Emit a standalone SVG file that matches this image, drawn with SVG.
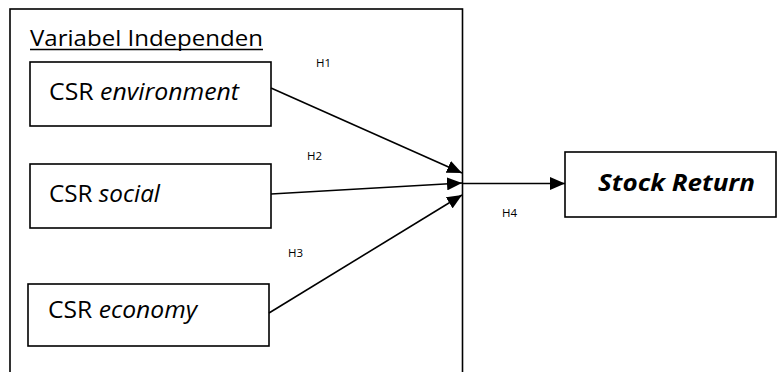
<svg xmlns="http://www.w3.org/2000/svg" width="778" height="372" viewBox="0 0 778 372">
<defs>
<style>
.box{fill:#fff;stroke:#000;stroke-width:1.6}
.t{font-family:"Open Sans","Noto Sans",sans-serif;fill:#000}
.lbl{font-family:"Open Sans","Noto Sans",sans-serif;font-size:11.5px;fill:#000}
.con{stroke:#000;stroke-width:1.6;fill:none;marker-end:url(#ah)}
</style>
<marker id="ah" viewBox="0 0 15 13" refX="15" refY="6.5" markerWidth="15" markerHeight="13" markerUnits="userSpaceOnUse" orient="auto">
<path d="M0,0 L15,6.5 L0,13 Z" fill="#000"/>
</marker>
</defs>
<rect width="778" height="372" fill="#fff"/>
<g id="group-independen">
<rect class="box" x="10" y="9" width="452.5" height="380"/>
<text class="t" x="30" y="45.5" font-size="22" textLength="233" lengthAdjust="spacingAndGlyphs">Variabel Independen</text>
<line x1="30" y1="49.5" x2="263" y2="49.5" stroke="#000" stroke-width="1.4"/>
</g>
<g id="node-environment">
<rect class="box" x="30" y="62" width="241" height="64"/>
<text class="t" x="49" y="100" font-size="24" textLength="190" lengthAdjust="spacingAndGlyphs">CSR <tspan font-style="italic">environment</tspan></text>
</g>
<g id="node-social">
<rect class="box" x="30" y="164" width="241" height="64"/>
<text class="t" x="49" y="202" font-size="24" textLength="111" lengthAdjust="spacingAndGlyphs">CSR <tspan font-style="italic">social</tspan></text>
</g>
<g id="node-economy">
<rect class="box" x="28" y="284" width="241" height="62"/>
<text class="t" x="48" y="318" font-size="24" textLength="149" lengthAdjust="spacingAndGlyphs">CSR <tspan font-style="italic">economy</tspan></text>
</g>
<g id="node-stock">
<rect class="box" x="565" y="152" width="211" height="65"/>
<text class="t" x="598" y="191" font-size="24" font-weight="bold" font-style="italic" textLength="157" lengthAdjust="spacingAndGlyphs">Stock Return</text>
</g>
<g id="connectors">
<line class="con" x1="271" y1="88" x2="462" y2="173"/>
<line class="con" x1="271" y1="194" x2="462" y2="183"/>
<line class="con" x1="269" y1="313" x2="462" y2="195"/>
<line class="con" x1="462" y1="183.5" x2="565" y2="183.5"/>
</g>
<g id="labels">
<text class="lbl" x="316" y="67">H1</text>
<text class="lbl" x="307" y="160">H2</text>
<text class="lbl" x="288" y="257">H3</text>
<text class="lbl" x="502" y="217">H4</text>
</g>
</svg>
